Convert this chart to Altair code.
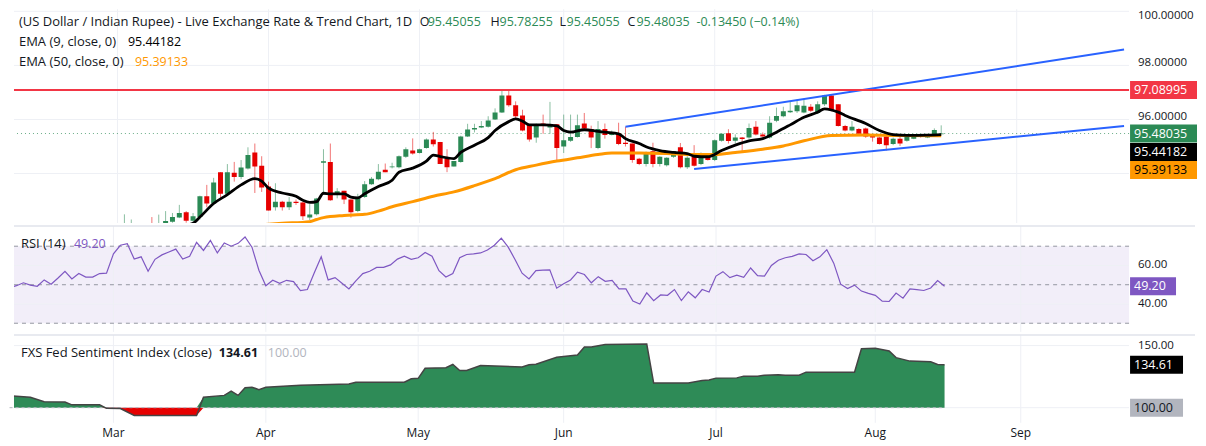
import altair as alt
import numpy as np
import pandas as pd

# ---------------- data ----------------
START = "2026-02-09"          # first trading day in view (bar 0)
month_starts = ["2026-03-02", "2026-04-01", "2026-05-01", "2026-06-01",
                "2026-07-01", "2026-08-03", "2026-09-01"]
month_labels = ["Mar", "Apr", "May", "Jun", "Jul", "Aug", "Sep"]

candle_first = "2026-03-03"
opens = [91.95, 91.98, 92.10, 91.95, 92.10, 91.95, 92.05, 92.22, 92.37, 92.57,
         92.25, 92.39, 93.16, 92.89, 94.05, 93.25, 94.03, 93.87, 94.19, 94.78,
         94.29, 93.52, 92.75, 92.96, 92.75, 92.96, 92.93, 92.37, 92.49, 94.40,
         94.43, 93.22, 93.36, 93.04, 92.61, 93.13, 93.60, 93.79, 94.14, 94.23,
         94.23, 94.62, 94.85, 94.76, 94.94, 95.26, 95.17, 94.55, 94.26, 94.43,
         95.37, 95.63, 95.70, 95.73, 96.00, 96.26, 96.89, 96.53, 96.15, 95.82,
         95.33, 95.85, 95.70, 95.82, 95.00, 95.21, 95.35, 95.85, 95.65, 94.94,
         95.65, 95.43, 95.49, 95.14, 95.11, 94.55, 94.35, 94.82, 94.35, 94.31,
         94.62, 94.97, 94.23, 94.64, 94.35, 94.60, 94.50, 95.21, 95.49, 95.21,
         95.33, 95.33, 95.73, 95.44, 95.33, 95.95, 96.12, 96.27, 96.30, 96.26,
         96.47, 96.24, 96.56, 96.89, 96.56, 95.76, 95.59, 95.65, 95.67, 95.41,
         95.33, 95.37, 95.09, 95.29, 95.21, 95.29, 95.43, 95.33, 95.41, 95.45055]
highs = [92.49, 92.30, 92.15, 92.12, 92.39, 92.48, 92.61, 92.54, 92.84, 92.61,
         92.54, 93.18, 93.58, 93.84, 94.05, 94.35, 94.43, 94.50, 94.97, 95.11,
         94.64, 93.70, 93.64, 92.99, 93.13, 93.04, 92.95, 92.87, 93.10, 94.90,
         95.11, 93.46, 93.36, 93.04, 93.25, 93.72, 93.87, 94.35, 94.37, 94.40,
         94.67, 94.97, 95.30, 94.92, 95.30, 95.54, 95.17, 94.90, 94.46, 95.40,
         95.84, 95.84, 95.94, 96.12, 96.41, 97.07, 97.07, 96.67, 96.36, 95.82,
         95.85, 96.18, 96.65, 95.82, 96.18, 96.18, 96.18, 96.24, 95.77, 95.94,
         95.85, 95.59, 95.88, 95.73, 95.11, 94.58, 94.81, 95.14, 94.64, 94.60,
         94.82, 95.13, 94.64, 95.05, 94.78, 94.62, 95.26, 95.49, 95.64, 95.45,
         95.35, 95.85, 95.94, 95.52, 96.12, 96.44, 96.47, 96.67, 96.74, 96.77,
         96.57, 96.67, 96.91, 96.91, 96.56, 95.80, 95.94, 95.68, 95.70, 95.43,
         95.35, 95.39, 95.33, 95.37, 95.39, 95.40, 95.45, 95.43, 95.67, 95.78255]
lows = [91.85, 91.90, 91.90, 91.85, 91.90, 91.90, 92.00, 92.18, 92.35, 92.18,
        92.22, 92.30, 92.75, 92.87, 93.10, 93.22, 93.70, 93.79, 94.15, 93.28,
        93.32, 92.63, 92.63, 92.63, 92.65, 92.84, 92.28, 92.28, 92.45, 93.22,
        92.99, 93.08, 92.87, 92.37, 92.57, 93.10, 93.58, 93.75, 94.05, 94.19,
        94.19, 94.58, 94.70, 94.74, 94.92, 95.00, 94.35, 94.05, 94.26, 94.40,
        95.35, 95.52, 95.68, 95.70, 95.98, 96.24, 96.47, 96.06, 95.56, 95.18,
        95.14, 95.47, 95.47, 94.46, 94.76, 95.17, 95.33, 95.59, 94.94, 94.90,
        95.29, 95.41, 95.05, 95.00, 94.40, 94.31, 94.26, 94.23, 94.26, 94.26,
        94.58, 94.19, 94.17, 94.26, 94.31, 94.48, 94.46, 95.18, 95.11, 95.11,
        94.78, 95.29, 95.41, 95.37, 95.29, 95.90, 96.08, 96.24, 96.24, 96.23,
        96.27, 96.20, 96.50, 96.30, 95.74, 95.56, 95.56, 95.44, 95.32, 95.18,
        95.07, 94.85, 95.05, 95.02, 95.18, 95.27, 95.33, 95.31, 95.39, 95.45055]
closes = [92.10, 92.12, 91.95, 92.05, 91.95, 92.14, 92.24, 92.39, 92.54, 92.25,
          92.42, 93.16, 92.89, 93.67, 93.25, 94.05, 93.87, 94.22, 94.69, 94.26,
          93.48, 92.63, 92.96, 92.75, 92.96, 92.91, 92.42, 92.48, 93.08, 94.45,
          93.01, 93.34, 93.04, 92.57, 93.13, 93.60, 93.81, 94.07, 94.05, 94.26,
          94.64, 94.90, 94.74, 94.90, 95.26, 95.08, 94.35, 94.23, 94.46, 95.37,
          95.63, 95.68, 95.76, 95.96, 96.26, 96.89, 96.53, 96.12, 95.59, 95.26,
          95.79, 95.80, 95.82, 94.94, 95.23, 95.35, 95.79, 95.67, 95.33, 95.65,
          95.43, 95.53, 95.09, 95.09, 94.50, 94.35, 94.78, 94.35, 94.62, 94.58,
          94.82, 94.23, 94.58, 94.29, 94.62, 94.50, 95.23, 95.47, 95.20, 95.33,
          95.28, 95.68, 95.44, 95.37, 95.88, 96.13, 96.30, 96.32, 96.53, 96.51,
          96.32, 96.56, 96.89, 96.35, 95.76, 95.59, 95.73, 95.47, 95.37, 95.33,
          95.09, 95.05, 95.29, 95.11, 95.37, 95.37, 95.35, 95.41, 95.61, 95.48035]

ema9_bar = [22, 26, 27, 29, 31, 33, 35, 36, 37, 39, 41, 42, 43, 44, 45, 46, 48, 49, 50, 51,
            53, 55, 56, 58, 60, 61, 62, 64, 65, 67, 69, 70, 72, 73, 74, 75, 77, 79, 80, 81,
            83, 85, 86, 88, 89, 91, 92, 94, 96, 98, 99, 101, 103, 105, 107, 109, 111, 113, 115, 117,
            118, 119, 120, 121, 124, 126, 128, 130, 133, 135]
ema9_val = [91.95, 92.16, 92.39, 92.89, 93.22, 93.58, 93.81, 93.72, 93.46, 93.28,
            93.16, 93.01, 92.93, 92.96, 93.27, 93.25, 93.25, 93.13, 93.10, 93.25,
            93.52, 93.75, 94.05, 94.20, 94.46, 94.68, 94.63, 94.55, 94.78, 95.05,
            95.33, 95.59, 95.92, 96.02, 95.94, 95.80, 95.80, 95.76, 95.59, 95.53,
            95.62, 95.56, 95.53, 95.47, 95.29, 95.11, 94.99, 94.85, 94.78, 94.74,
            94.64, 94.62, 94.85, 95.05, 95.21, 95.29, 95.53, 95.80, 96.08, 96.27,
            96.39, 96.35, 96.27, 96.15, 95.85, 95.59, 95.44, 95.41, 95.42, 95.44]
ema50_bar = [33, 39, 43, 44, 45, 48, 51, 53, 55, 58, 61, 64, 67, 70, 73, 76, 79, 82, 85, 87,
             91, 95, 99, 102, 105, 109, 112, 115, 119, 124, 129, 135]
ema50_val = [92.05, 92.16, 92.22, 92.30, 92.37, 92.45, 92.49, 92.61, 92.77, 92.96,
             93.16, 93.32, 93.55, 93.81, 94.14, 94.31, 94.46, 94.58, 94.70, 94.76,
             94.76, 94.74, 94.70, 94.70, 94.78, 94.90, 95.02, 95.21, 95.41, 95.43,
             95.41, 95.40]

trend_upper_bar = [89, 161.64]
trend_upper_val = [95.73, 98.59]
trend_lower_bar = [99, 161.64]
trend_lower_val = [94.17, 95.76]

resistance = 97.08995
last_close = 95.48035
ema9_last = 95.44182
ema50_last = 95.39133
price_ticks = [94, 96, 98, 100]
price_tick_labels = ["", "96.00000", "98.00000", "100.00000"]

rsi_vals = [48.5, 49.5, 51.0, 49.8, 49.2, 52.5, 50.3, 53.5, 57.0, 53.0,
            55.8, 54.0, 54.0, 55.8, 56.0, 66.0, 70.5, 71.3, 63.3, 64.5,
            57.0, 63.2, 65.5, 67.0, 68.5, 63.3, 64.8, 72.0, 67.8, 73.0,
            66.5, 71.7, 70.0, 71.5, 74.8, 69.5, 57.5, 49.5, 52.3, 50.7,
            52.3, 51.6, 47.0, 47.5, 56.2, 64.5, 52.5, 53.7, 50.8, 47.8,
            52.0, 55.8, 57.0, 59.0, 59.0, 60.3, 63.3, 64.8, 63.2, 64.0,
            66.7, 64.8, 57.3, 54.0, 55.8, 64.0, 65.7, 66.0, 66.5, 68.0,
            70.5, 74.2, 69.5, 63.0, 56.0, 53.0, 57.3, 57.6, 57.7, 48.2,
            50.5, 52.5, 56.5, 55.3, 51.0, 54.2, 51.8, 52.2, 47.8, 47.8,
            41.5, 40.0, 45.8, 41.7, 44.7, 44.5, 47.5, 41.8, 46.3, 43.2,
            47.5, 46.2, 54.5, 56.8, 53.7, 55.0, 53.8, 58.7, 54.7, 54.5,
            60.0, 62.7, 64.0, 64.7, 66.0, 65.7, 62.5, 64.5, 68.2, 61.2,
            50.3, 48.0, 49.8, 46.7, 45.5, 44.5, 41.5, 41.3, 45.7, 43.0,
            47.8, 47.5, 47.0, 48.3, 52.2, 49.2]
rsi_last = 49.20
rsi_ticks = [40, 60]
rsi_tick_labels = ["40.00", "60.00"]
rsi_levels = [30, 50, 70]

fed_bar = [0, 3, 5, 8, 9, 13, 14, 16, 18, 27, 28, 31, 32, 33, 34, 35, 36, 37, 42, 49,
           50, 57, 58, 59, 60, 63, 64, 65, 66, 68, 74, 75, 76, 79, 82, 83, 84, 86, 92, 93,
           98, 100, 101, 102, 105, 106, 108, 109, 111, 112, 114, 115, 122, 123, 125, 127, 128, 130, 133, 134,
           135]
fed_val = [109.6, 108.4, 104.8, 104.6, 102.3, 102.3, 99.5, 99.3, 93.7, 93.7,
           108.4, 109.9, 113.4, 109.9, 116.0, 116.5, 114.5, 116.5, 118.0, 119.0,
           120.5, 120.5, 123.3, 123.6, 131.7, 132.2, 134.8, 129.9, 129.9, 134.0,
           132.7, 134.5, 135.0, 140.6, 142.4, 148.9, 148.9, 150.8, 151.2, 119.8,
           119.8, 121.8, 122.3, 123.8, 124.0, 125.4, 125.4, 126.1, 126.6, 126.1,
           126.1, 128.6, 128.6, 147.4, 147.9, 145.7, 140.3, 137.5, 137.0, 134.8,
           134.61]
fed_last = 134.61
fed_base = 100.0
fed_ticks = [100, 150]
fed_tick_labels = ["", "150.00"]

# ---------------- styling ----------------
FONT = "Open Sans"
TXT = "#131722"
GRID = "#EEF0F5"
UP = "#2B8A55"
DOWN = "#E60000"
W = 1116
HP, HR, HF = 214, 106, 88
X0, X1 = 0.64, 161.64


def bar_of(d):
    return int(np.busday_count(START, d))


month_idx = [bar_of(d) for d in month_starts]
c0 = bar_of(candle_first)
candles = pd.DataFrame({
    "bar": list(range(c0, c0 + len(opens))),
    "open": opens, "high": highs, "low": lows, "close": closes,
})
candles["dir"] = np.where(candles["close"] >= candles["open"], "up", "down")

ema9_df = pd.DataFrame({"bar": ema9_bar, "v": ema9_val})
ema50_df = pd.DataFrame({"bar": ema50_bar, "v": ema50_val})
trend_df = pd.concat([
    pd.DataFrame({"bar": trend_upper_bar, "v": trend_upper_val, "line": "upper"}),
    pd.DataFrame({"bar": trend_lower_bar, "v": trend_lower_val, "line": "lower"}),
])
rsi_df = pd.DataFrame({"bar": list(range(len(rsi_vals))), "v": rsi_vals})
fed_df = pd.DataFrame({"bar": fed_bar, "v": fed_val})
month_df = pd.DataFrame({"bar": month_idx, "m": month_labels})

xs = alt.Scale(domain=[X0, X1], nice=False, zero=False)
ps = alt.Scale(domain=[92.17, 100.08], nice=False, zero=False)
rs = alt.Scale(domain=[25.5, 80.5], nice=False, zero=False)
fs = alt.Scale(domain=[87.8, 158.6], nice=False, zero=False)


def X(field="bar"):
    return alt.X(f"{field}:Q", scale=xs, axis=None)


def Y(field, scale):
    return alt.Y(f"{field}:Q", scale=scale, axis=None)


def vgrid():
    return alt.Chart(month_df).mark_rule(color=GRID, strokeWidth=1).encode(x=X())


def hgrid(ticks, scale):
    return alt.Chart(pd.DataFrame({"v": ticks})).mark_rule(color=GRID, strokeWidth=1).encode(y=Y("v", scale))


def ylabels(ticks, labels, scale, top_flush=False, dy=0):
    df = pd.DataFrame({"v": ticks, "t": labels})
    layers = []
    if top_flush:
        layers.append(alt.Chart(df.iloc[-1:]).mark_text(
            align="left", baseline="top", dy=-1, font=FONT, fontSize=11.5, color=TXT
        ).encode(text="t:N", x=alt.value(W + 9), y=Y("v", scale)))
        df = df.iloc[:-1]
    layers.append(alt.Chart(df).mark_text(
        align="left", baseline="middle", dy=dy, font=FONT, fontSize=11.5, color=TXT
    ).encode(text="t:N", x=alt.value(W + 9), y=Y("v", scale)))
    return layers


def text(t, x, y, color=TXT, size=12.5, weight="normal"):
    return alt.Chart(pd.DataFrame({"t": [t]})).mark_text(
        align="left", baseline="middle", font=FONT, fontSize=size, color=color, fontWeight=weight
    ).encode(text="t:N", x=alt.value(x), y=alt.value(y))


def box(value, label, scale, bg, fg, wpx, yoff=0):
    half = 9.0 / (wpx / 2.0)
    shape = f"M-1,-{half:.4f}L1,-{half:.4f}L1,{half:.4f}L-1,{half:.4f}Z"
    df = pd.DataFrame({"v": [value], "t": [label]})
    b = alt.Chart(df).mark_point(shape=shape, size=wpx * wpx, filled=True, opacity=1,
                                 color=bg, strokeWidth=0, yOffset=yoff).encode(
        x=alt.value(W + 1 + wpx / 2.0), y=Y("v", scale))
    t = alt.Chart(df).mark_text(align="left", baseline="middle", font=FONT, fontSize=12.5,
                                color=fg, yOffset=yoff).encode(
        text="t:N", x=alt.value(W + 5), y=Y("v", scale))
    return [b, t]


def separator():
    return alt.Chart(pd.DataFrame({"a": [0]})).mark_rule(color="#E0E3EB", strokeWidth=1.5).encode(
        x=alt.value(0), x2=alt.value(W + 66), y=alt.value(0))


# ---------------- price panel ----------------
dir_color = alt.Color("dir:N", scale=alt.Scale(domain=["up", "down"], range=[UP, DOWN]), legend=None)

wick = alt.Chart(candles).mark_rule(clip=True, strokeWidth=1, opacity=0.55).encode(
    x=X(), y=Y("low", ps), y2="high:Q", color=dir_color)
body = alt.Chart(candles).mark_bar(clip=True, size=5).encode(
    x=X(), y=Y("open", ps), y2="close:Q", color=dir_color)
last_line = alt.Chart(pd.DataFrame({"v": [last_close]})).mark_rule(
    color=UP, strokeDash=[1, 3], strokeWidth=1, opacity=0.7).encode(y=Y("v", ps))
ema50 = alt.Chart(ema50_df).mark_line(clip=True, color="#FF9800", strokeWidth=3, interpolate="monotone").encode(
    x=X(), y=Y("v", ps))
ema9 = alt.Chart(ema9_df).mark_line(clip=True, color="#000000", strokeWidth=2.8, interpolate="monotone").encode(
    x=X(), y=Y("v", ps))
trend = alt.Chart(trend_df).mark_line(clip=True, color="#2962FF", strokeWidth=2).encode(
    x=X(), y=Y("v", ps), detail="line:N")
res_line = alt.Chart(pd.DataFrame({"v": [resistance]})).mark_rule(color="#F23645", strokeWidth=2).encode(
    y=Y("v", ps))

price_layers = [vgrid(), hgrid(price_ticks, ps), last_line, wick, body, ema50, ema9, trend, res_line]
price_layers += ylabels(price_ticks, price_tick_labels, ps, top_flush=True, dy=-2)
price_layers += box(resistance, f"{resistance:.5f}", ps, "#F23645", "#FFFFFF", 67)
price_layers += box(last_close, f"{last_close:.5f}", ps, UP, "#FFFFFF", 67)
price_layers += box(ema9_last, f"{ema9_last:.5f}", ps, "#000000", "#FFFFFF", 67, 17.5)
price_layers += box(ema50_last, f"{ema50_last:.5f}", ps, "#FF9800", "#000000", 67, 34)
price_layers += [
    text("(US Dollar / Indian Rupee) - Live Exchange Rate & Trend Chart, 1D", 5, 13, size=13),
    text("O", 406, 13), text(f"{opens[-1]:.5f}", 414, 13, UP),
    text("H", 477, 13), text(f"{highs[-1]:.5f}", 486, 13, UP),
    text("L", 546, 13), text(f"{lows[-1]:.5f}", 553, 13, UP),
    text("C", 614, 13), text(f"{closes[-1]:.5f}", 623, 13, UP),
    text("-0.13450 (\u22120.14%)", 683, 13, UP),
    text("EMA (9, close, 0)", 5, 33, size=13), text(f"{ema9_last:.5f}", 114, 33, "#000000"),
    text("EMA (50, close, 0)", 5, 53, size=13), text(f"{ema50_last:.5f}", 121, 53, "#FF9800"),
]
price = alt.layer(*price_layers).properties(width=W, height=HP)

# ---------------- RSI panel ----------------
band = alt.Chart(pd.DataFrame({"lo": [rsi_levels[0]], "hi": [rsi_levels[-1]]})).mark_rect(
    color="#7E57C2", opacity=0.1).encode(y=Y("lo", rs), y2="hi:Q")
levels = alt.Chart(pd.DataFrame({"v": rsi_levels})).mark_rule(
    color="#9598A1", strokeDash=[4, 4], strokeWidth=1).encode(y=Y("v", rs))
rsi_line = alt.Chart(rsi_df).mark_line(clip=True, color="#7E57C2", strokeWidth=1.2).encode(
    x=X(), y=Y("v", rs))
rsi_layers = [band, vgrid(), hgrid(rsi_ticks, rs), levels, rsi_line, separator()]
rsi_layers += ylabels(rsi_ticks, rsi_tick_labels, rs)
rsi_layers += box(rsi_last, f"{rsi_last:.2f}", rs, "#7E57C2", "#FFFFFF", 46)
rsi_layers += [text("RSI (14)", 7, 18, size=13), text(f"{rsi_last:.2f}", 60, 18, "#7E57C2")]
rsi = alt.layer(*rsi_layers).properties(width=W, height=HR)

# ---------------- Fed sentiment panel ----------------
fed_base_df = pd.DataFrame({"a": [fed_bar[0]], "b": [fed_bar[-1]], "v": [fed_base]})
fed_calc = alt.Chart(fed_df).transform_calculate(
    pos=f"max(datum.v, {fed_base})", neg=f"min(datum.v, {fed_base})", base=f"{fed_base}")
green_area = fed_calc.mark_area(clip=True, color="#2E8B57", opacity=1).encode(
    x=X(), y=Y("pos", fs), y2="base:Q")
red_area = fed_calc.mark_area(clip=True, color="#E60000", opacity=1).encode(
    x=X(), y=Y("neg", fs), y2="base:Q")
fed_outline = alt.Chart(fed_df).mark_line(clip=True, color="#444444", strokeWidth=1.5).encode(
    x=X(), y=Y("v", fs))
base_rule = alt.Chart(fed_base_df).mark_rule(color="#B2B5BE", strokeDash=[3, 3], strokeWidth=1).encode(
    x=X("a"), x2="b:Q", y=Y("v", fs))
month_text = alt.Chart(month_df).mark_text(
    align="center", baseline="middle", font=FONT, fontSize=12, color=TXT
).encode(text="m:N", x=X(), y=alt.value(HF + 10))
fed_layers = [vgrid(), hgrid(fed_ticks, fs), green_area, red_area, base_rule, fed_outline, separator(),
              month_text]
fed_layers += ylabels(fed_ticks, fed_tick_labels, fs)
fed_layers += box(fed_last, f"{fed_last:.2f}", fs, "#000000", "#FFFFFF", 53)
fed_layers += box(fed_base, f"{fed_base:.2f}", fs, "#B2B5BE", TXT, 53)
fed_layers += [
    text("FXS Fed Sentiment Index (close)", 7, 18, size=13),
    text(f"{fed_last:.2f}", 205, 18, TXT, 12.5, "bold"),
    text(f"{fed_base:.2f}", 254, 18, "#B2B5BE"),
]
fed = alt.layer(*fed_layers).properties(width=W, height=HF)

chart = alt.vconcat(price, rsi, fed, spacing=0).properties(
    padding=0, background="#FFFFFF"
).configure_view(stroke="transparent").configure_concat(spacing=0)

chart.save("out.html", embed_options={"renderer": "svg", "actions": False})
